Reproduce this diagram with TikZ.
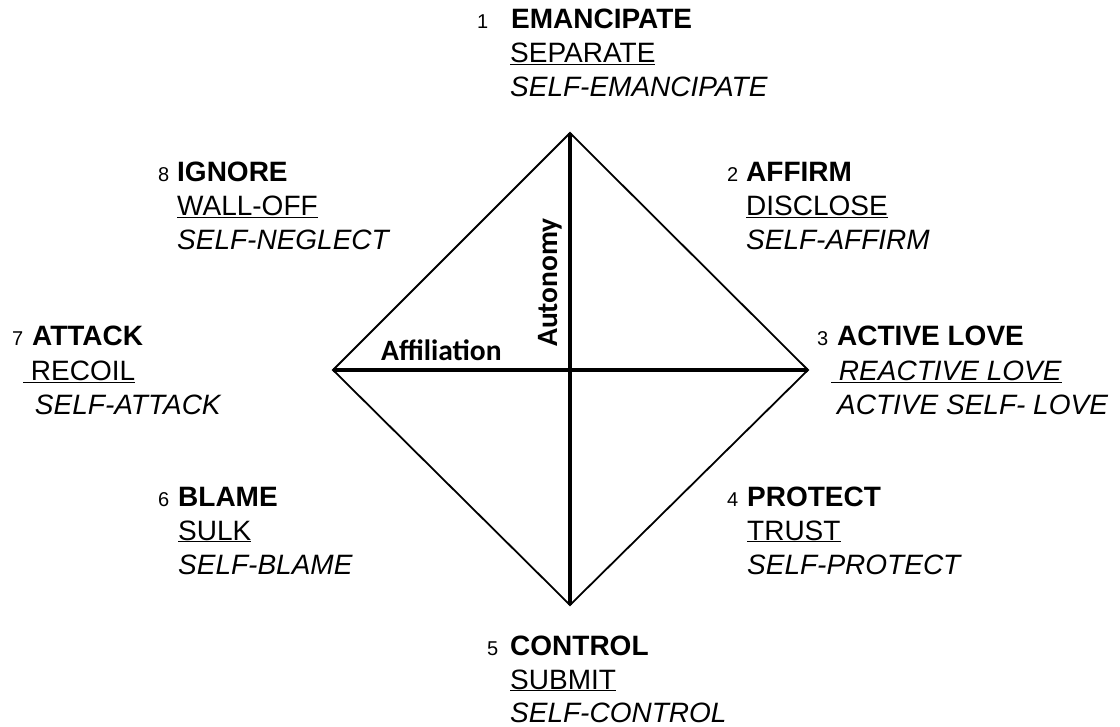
\documentclass[tikz,border=0pt]{standalone}
\usepackage{fontspec}
\setmainfont{Liberation Sans}
\newfontfamily\calib{Carlito}
\begin{document}
\begin{tikzpicture}[x=1pt,y=-1pt,
  lbl/.style={anchor=base west,inner sep=0pt,font=\fontsize{28}{30}\selectfont},
  num/.style={anchor=base west,inner sep=0pt,font=\fontsize{20}{22}\selectfont},
  edge/.style={line width=1.8pt},
  axis/.style={line width=3.6pt},
  axlbl/.style={inner sep=0pt,font=\calib\bfseries\fontsize{29.5}{32}\selectfont}]
\useasboundingbox (0,0) rectangle (1120,727);
% diamond
\coordinate (T) at (570,133);
\coordinate (B) at (570,605);
\coordinate (L) at (333,370);
\coordinate (R) at (808,370);
\draw[edge,line join=miter] (T) -- (R) -- (B) -- (L) -- cycle;
\draw[axis] (T) -- (B);
\draw[axis] (L) -- (R);
\node[axlbl,anchor=base west] (aff) at (381,361) {Affiliation};
\node[axlbl,rotate=90,anchor=base west] (aut) at (557,347) {Autonomy};
% 1
\node[num] (n1) at (477,29) {1};
\node[lbl] (a1) at (511,29) {\textbf{EMANCIPATE}};
\node[lbl] (b1) at (510,63) {\underline{SEPARATE}};
\node[lbl] (c1) at (510,97) {\textit{SELF-EMANCIPATE}};
% 2
\node[num] (n2) at (727,182) {2};
\node[lbl] (a2) at (746,182) {\textbf{AFFIRM}};
\node[lbl] (b2) at (746,216) {\underline{DISCLOSE}};
\node[lbl] (c2) at (746,250) {\textit{SELF-AFFIRM}};
% 3
\node[num] (n3) at (817,346) {3};
\node[lbl] (a3) at (837,346) {\textbf{ACTIVE LOVE}};
\node[lbl] (b3) at (831,381) {\underline{\ \textit{REACTIVE LOVE}}};
\node[lbl] (c3) at (837,415) {\textit{ACTIVE SELF- LOVE}};
% 4
\node[num] (n4) at (727,506) {4};
\node[lbl] (a4) at (747,506) {\textbf{PROTECT}};
\node[lbl] (b4) at (747,540) {\underline{TRUST}};
\node[lbl] (c4) at (747,574) {\textit{SELF-PROTECT}};
% 5
\node[num] (n5) at (487,655) {5};
\node[lbl] (a5) at (510,655) {\textbf{CONTROL}};
\node[lbl] (b5) at (510,689) {\underline{SUBMIT}};
\node[lbl] (c5) at (510,722) {\textit{SELF-CONTROL}};
% 6
\node[num] (n6) at (158,506) {6};
\node[lbl] (a6) at (178,506) {\textbf{BLAME}};
\node[lbl] (b6) at (178,540) {\underline{SULK}};
\node[lbl] (c6) at (178,574) {\textit{SELF-BLAME}};
% 7
\node[num] (n7) at (12,346) {7};
\node[lbl] (a7) at (32,346) {\textbf{ATTACK}};
\node[lbl] (b7) at (23,381) {\underline{\ RECOIL}};
\node[lbl] (c7) at (27,415) {\textit{\ SELF-ATTACK}};
% 8
\node[num] (n8) at (158,182) {8};
\node[lbl] (a8) at (177,182) {\textbf{IGNORE}};
\node[lbl] (b8) at (177,216) {\underline{WALL-OFF}};
\node[lbl] (c8) at (177,250) {\textit{SELF-NEGLECT}};
\end{tikzpicture}
\end{document}
